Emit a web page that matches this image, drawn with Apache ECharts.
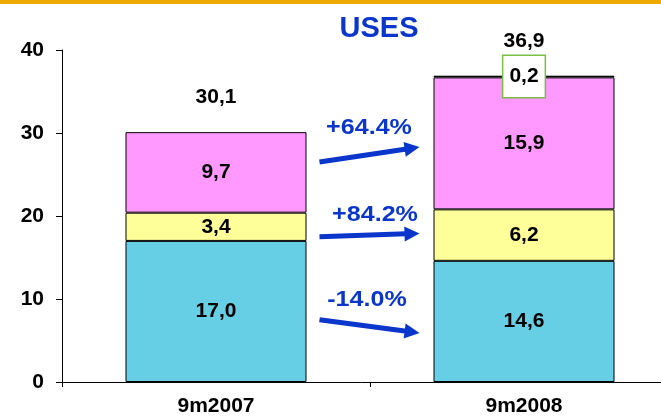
<!DOCTYPE html>
<html>
<head>
<meta charset="utf-8">
<script src="https://cdn.jsdelivr.net/npm/echarts@6/dist/echarts.min.js"></script>
<style>
html,body{margin:0;padding:0;background:#fff;}
#top{position:absolute;left:0;top:0;width:661px;height:4px;background:#eeaa00;}
#chart{width:661px;height:419px;}
</style>
</head>
<body>
<div id="chart"></div>
<div id="top"></div>
<script>
// ---- data ----
const categories = ['9m2007', '9m2008'];
const segBlue = [17.0, 14.6];
const segYellow = [3.4, 6.2];
const segPink = [9.7, 15.9];
const segTop = [null, 0.2];
const totals = [30.1, 36.9];
const yMin = 0, yMax = 40, yStep = 10;
const growthLabels = ['+64.4%', '+84.2%', '-14.0%'];
const arrowFromY = [26.5, 17.5, 7.5];
const arrowToY = [28.3, 17.9, 5.9];
const growthLabelY = [30.6, 20.1, 9.9];

const FONT = 'Liberation Sans, Arial, sans-serif';
const fmt = v => (v == null ? '' : Number(v).toFixed(1).replace('.', ','));
const BAR_W = 181;
const BLUE = '#0a36cc';

const inLabel = {
  show: true, position: 'inside', color: '#000', fontFamily: FONT,
  fontWeight: 'bold', fontSize: 21,
  formatter: p => fmt(p.value)
};
function barSeries(name, data, color, label) {
  return {
    name, type: 'bar', stack: 'uses', data, barWidth: BAR_W,
    itemStyle: { color, borderColor: '#000', borderWidth: 1 },
    label: label || inLabel, emphasis: { disabled: true }, z: 2
  };
}

const chart = echarts.init(document.getElementById('chart'), null, { renderer: 'canvas' });
chart.setOption({
  animation: false,
  backgroundColor: '#fff',
  title: {
    text: 'USES', left: 374, top: 9, textAlign: 'center',
    textStyle: { color: BLUE, fontFamily: FONT, fontWeight: 'bold', fontSize: 29 }
  },
  grid: { left: 62, right: -17, top: 50, bottom: 37, outerBoundsMode: 'none', containLabel: false },
  xAxis: {
    type: 'category', data: categories, boundaryGap: true,
    axisLine: { lineStyle: { color: '#000', width: 1 } },
    axisTick: { show: true, length: 5, lineStyle: { color: '#000' } },
    axisLabel: { color: '#000', fontFamily: FONT, fontWeight: 'bold', fontSize: 21, margin: 14 }
  },
  yAxis: {
    type: 'value', min: yMin, max: yMax, interval: yStep,
    axisLine: { show: true, lineStyle: { color: '#000', width: 1 } },
    axisTick: { show: true, length: 6, lineStyle: { color: '#000' } },
    splitLine: { show: false },
    axisLabel: { color: '#000', fontFamily: FONT, fontWeight: 'bold', fontSize: 21, margin: 18 }
  },
  series: [
    barSeries('a', segBlue, '#66cfe6'),
    barSeries('b', segYellow, '#ffff99'),
    barSeries('c', segPink, '#ff99ff'),
    barSeries('d', segTop, '#000000', {
      show: true, position: 'inside', color: '#000', fontFamily: FONT,
      fontWeight: 'bold', fontSize: 21,
      backgroundColor: '#fff', borderColor: '#77c043', borderWidth: 1.5,
      padding: [10, 6, 10, 6],
      formatter: p => fmt(p.value)
    }),
    {
      name: 'total', type: 'bar', stack: 'uses', barWidth: BAR_W,
      data: totals.map(() => 0),
      itemStyle: { color: 'rgba(0,0,0,0)', borderWidth: 0 },
      label: {
        show: true, position: 'top', distance: 24, color: '#000', fontFamily: FONT,
        fontWeight: 'bold', fontSize: 21, formatter: p => fmt(totals[p.dataIndex])
      },
      emphasis: { disabled: true }, z: 5
    }
  ]
});

// arrows between the bars, placed via axis conversion
function drawArrows() {
  const c0 = chart.convertToPixel({ xAxisIndex: 0 }, categories[0]);
  const c1 = chart.convertToPixel({ xAxisIndex: 0 }, categories[1]);
  const leftEdge = c0 + BAR_W / 2;
  const rightEdge = c1 - BAR_W / 2;
  const mid = (leftEdge + rightEdge) / 2;
  const labelDx = [-1, 5, -3];
  const els = [];
  for (let i = 0; i < growthLabels.length; i++) {
    const x0 = leftEdge + 13, x1 = rightEdge - 14;
    const y0 = chart.convertToPixel({ yAxisIndex: 0 }, arrowFromY[i]);
    const y1 = chart.convertToPixel({ yAxisIndex: 0 }, arrowToY[i]);
    const dx = x1 - x0, dy = y1 - y0, L = Math.hypot(dx, dy);
    const ux = dx / L, uy = dy / L, px = -uy, py = ux;
    const headL = 15, headW = 7.5;
    const bx = x1 - ux * headL, by = y1 - uy * headL;
    els.push({
      type: 'line', shape: { x1: x0, y1: y0, x2: bx + ux * 2, y2: by + uy * 2 },
      style: { stroke: BLUE, lineWidth: 5 }, z: 10
    });
    els.push({
      type: 'polygon',
      shape: { points: [[x1, y1], [bx + px * headW, by + py * headW], [bx - px * headW, by - py * headW]] },
      style: { fill: BLUE }, z: 10
    });
    els.push({
      type: 'text', x: mid + labelDx[i],
      y: chart.convertToPixel({ yAxisIndex: 0 }, growthLabelY[i]),
      scaleX: 1.14,
      style: {
        text: growthLabels[i], fill: BLUE, font: 'bold 22px ' + FONT,
        textAlign: 'center', textVerticalAlign: 'middle'
      }, z: 10
    });
  }
  chart.setOption({ graphic: els });
}
drawArrows();
</script>
</body>
</html>
